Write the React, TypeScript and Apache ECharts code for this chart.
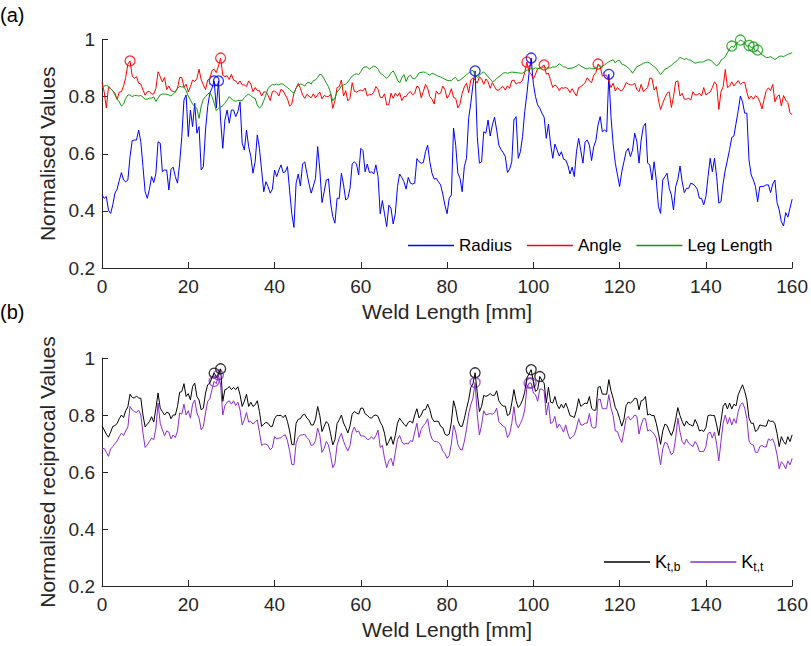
import React, { useEffect, useRef } from "react";
import * as echarts from "echarts";

const FONT = '"Liberation Sans", Arial, Helvetica, sans-serif';

// sample positions along the weld (mm), 0.5 mm step
const weldLength: number[] = Array.from({ length: 321 }, (_, i) => i * 0.5);

const radius = [
  0.456,0.444,0.45,0.403,0.391,0.421,0.462,0.476,0.506,0.534,
  0.508,0.502,0.508,0.59,0.646,0.648,0.648,0.683,0.642,0.555,
  0.467,0.444,0.476,0.52,0.499,0.532,0.642,0.637,0.537,0.543,
  0.543,0.473,0.546,0.553,0.52,0.497,0.567,0.66,0.788,0.806,
  0.66,0.753,0.695,0.777,0.672,0.695,0.543,0.555,0.683,0.765,
  0.812,0.83,0.855,0.76,0.855,0.718,0.619,0.718,0.753,0.707,
  0.753,0.753,0.730,0.747,0.782,0.637,0.613,0.683,0.625,0.590,
  0.532,0.572,0.666,0.619,0.543,0.467,0.502,0.485,0.462,0.476,
  0.543,
  0.52,0.543,0.561,0.534,0.537,0.555,0.471,0.39,0.342,0.497,
  0.529,0.487,0.564,0.572,0.532,0.494,0.462,0.487,0.514,0.625,
  0.543,0.429,0.467,0.508,0.512,0.427,0.38,0.357,0.444,0.444,
  0.532,0.491,0.438,0.444,0.479,0.564,0.572,0.564,0.526,0.619,
  0.611,0.537,0.564,0.534,0.537,0.529,0.561,0.52,0.39,0.436,
  0.39,0.345,0.42,0.409,0.354,0.39,0.485,0.529,0.517,0.502,
  0.476,0.517,0.497,0.494,0.497,0.583,0.572,0.567,0.569,0.607,
  0.63,0.572,0.532,0.511,0.514,0.502,0.491,0.459,0.42,0.39,
  0.444,0.456,0.69,0.63,0.532,0.514,0.467,0.555,0.584,0.724,
  0.777,0.841,0.89,0.66,0.567,0.572,0.677,0.672,0.718,0.662,
  0.701,0.728,0.683,0.63,0.615,0.604,0.59,0.534,0.546,0.572,
  0.718,0.730,0.584,0.607,0.66,0.747,0.809,0.882,0.935,0.846,
  0.80,0.771,0.759,0.742,0.728,0.654,0.704,0.634,0.584,0.634,
  0.613,0.592,0.607,0.581,0.578,0.56,0.529,0.553,0.52,0.607,
  0.654,0.611,0.567,0.642,0.648,0.63,0.576,0.625,0.646,0.701,
  0.730,0.677,0.683,0.677,0.878,0.730,0.634,0.567,0.526,0.485,
  0.537,0.572,0.607,0.619,0.59,0.613,0.672,0.642,0.567,0.648,
  0.695,0.707,0.567,0.561,0.508,0.572,0.508,0.415,0.391,0.508,
  0.52,0.532,0.479,0.456,0.403,0.485,0.51,0.557,0.502,0.464,
  0.479,0.479,0.497,0.494,0.487,0.476,0.444,0.444,0.421,0.45,
  0.52,0.584,0.537,0.584,0.52,0.427,0.432,0.497,0.543,0.578,
  0.615,0.657,0.662,0.707,0.751,0.802,0.782,0.742,0.742,0.578,
  0.526,0.508,0.485,0.432,0.485,0.485,0.487,0.491,0.491,0.464,
  0.494,0.508,0.429,0.403,0.362,0.347,0.394,0.378,0.409,0.441,
];

const angle = [
  0.849,0.817,0.76,0.833,0.828,0.820,0.812,0.790,0.816,0.817,
  0.838,0.867,0.914,0.925,0.872,0.864,0.870,0.847,0.844,0.823,
  0.805,0.817,0.818,0.809,0.809,0.829,0.887,0.870,0.851,0.867,
  0.825,0.837,0.821,0.818,0.816,0.830,0.867,0.867,0.833,0.844,
  0.816,0.835,0.858,0.853,0.863,0.896,0.858,0.841,0.825,0.858,
  0.864,0.891,0.896,0.884,0.907,0.935,0.875,0.870,0.873,0.860,
  0.878,0.858,0.855,0.844,0.855,0.841,0.841,0.835,0.855,0.844,
  0.817,0.832,0.821,0.821,0.802,0.816,0.817,0.805,0.786,0.818,
  0.820,
  0.814,0.802,0.826,0.820,0.806,0.792,0.767,0.774,0.812,0.830,
  0.846,0.829,0.806,0.794,0.808,0.801,0.796,0.810,0.796,0.806,
  0.816,0.792,0.804,0.80,0.80,0.809,0.759,0.786,0.832,0.835,
  0.858,0.802,0.821,0.785,0.794,0.849,0.818,0.816,0.820,0.823,
  0.820,0.830,0.802,0.808,0.806,0.816,0.835,0.825,0.798,0.796,
  0.810,0.771,0.772,0.812,0.794,0.812,0.801,0.814,0.786,0.80,
  0.80,0.812,0.818,0.806,0.812,0.837,0.832,0.796,0.818,0.843,
  0.829,0.80,0.791,0.774,0.820,0.809,0.812,0.837,0.825,0.794,
  0.806,0.828,0.797,0.794,0.761,0.774,0.812,0.834,0.847,0.814,
  0.858,0.866,0.858,0.847,0.870,0.861,0.843,0.862,0.852,0.829,
  0.849,0.835,0.823,0.823,0.832,0.835,0.823,0.838,0.829,0.856,
  0.858,0.844,0.849,0.849,0.858,0.884,0.921,0.887,0.879,0.862,
  0.879,0.898,0.899,0.905,0.911,0.879,0.882,0.856,0.832,0.841,
  0.835,0.821,0.832,0.829,0.832,0.828,0.814,0.828,0.814,0.802,
  0.832,0.835,0.841,0.849,0.866,0.855,0.849,0.875,0.884,0.914,
  0.905,0.872,0.875,0.875,0.852,0.832,0.847,0.820,0.832,0.823,
  0.82,0.831,0.849,0.844,0.841,0.841,0.847,0.825,0.817,0.843,
  0.817,0.825,0.832,0.865,0.864,0.823,0.835,0.788,0.755,0.777,
  0.796,0.812,0.817,0.762,0.80,0.852,0.855,0.802,0.812,0.791,
  0.791,0.794,0.788,0.817,0.806,0.806,0.812,0.802,0.832,0.806,
  0.812,0.816,0.832,0.852,0.841,0.755,0.817,0.835,0.895,0.832,
  0.837,0.852,0.837,0.847,0.856,0.843,0.849,0.850,0.815,0.791,
  0.802,0.791,0.803,0.798,0.782,0.757,0.791,0.821,0.831,0.821,
  0.843,0.782,0.80,0.806,0.767,0.804,0.788,0.779,0.744,0.736,
];

const legLength = [
  0.829,0.837,0.839,0.837,0.828,0.821,0.806,0.791,0.782,0.767,
  0.774,0.794,0.806,0.806,0.80,0.804,0.804,0.802,0.804,0.798,
  0.791,0.791,0.795,0.795,0.799,0.783,0.795,0.806,0.809,0.809,
  0.808,0.806,0.802,0.809,0.816,0.829,0.836,0.834,0.834,0.821,
  0.802,0.788,0.774,0.765,0.759,0.724,0.767,0.791,0.80,0.809,
  0.814,0.80,0.777,0.751,0.759,0.763,0.768,0.777,0.788,0.80,
  0.792,0.786,0.784,0.786,0.787,0.786,0.797,0.804,0.809,0.803,
  0.797,0.794,0.771,0.760,0.767,0.786,0.806,0.828,0.837,0.842,
  0.841,
  0.844,0.841,0.845,0.844,0.837,0.832,0.825,0.817,0.812,0.830,
  0.839,0.844,0.842,0.837,0.848,0.850,0.844,0.856,0.858,0.867,
  0.879,0.875,0.862,0.847,0.835,0.812,0.785,0.796,0.816,0.825,
  0.838,0.841,0.844,0.851,0.862,0.872,0.877,0.880,0.877,0.887,
  0.901,0.904,0.904,0.896,0.902,0.907,0.904,0.896,0.882,0.878,
  0.871,0.864,0.871,0.883,0.89,0.877,0.858,0.848,0.866,0.877,
  0.853,0.870,0.875,0.864,0.863,0.870,0.883,0.885,0.886,0.885,
  0.879,0.875,0.882,0.879,0.875,0.871,0.869,0.865,0.861,0.857,
  0.856,0.856,0.864,0.867,0.855,0.858,0.864,0.870,0.877,0.882,
  0.889,0.892,0.876,0.867,0.876,0.882,0.886,0.879,0.869,0.862,
  0.852,0.855,0.864,0.869,0.875,0.882,0.884,0.882,0.884,0.886,
  0.885,0.885,0.883,0.882,0.882,0.886,0.893,0.893,0.899,0.897,
  0.901,0.897,0.901,0.900,0.904,0.900,0.901,0.900,0.904,0.903,
  0.907,0.915,0.910,0.904,0.903,0.898,0.899,0.900,0.903,0.907,
  0.913,0.907,0.903,0.899,0.897,0.901,0.898,0.897,0.901,0.908,
  0.907,0.906,0.911,0.917,0.922,0.926,0.929,0.918,0.926,0.926,
  0.914,0.911,0.907,0.9,0.893,0.882,0.893,0.905,0.908,0.912,
  0.917,0.919,0.921,0.917,0.911,0.905,0.899,0.888,0.877,0.886,
  0.896,0.899,0.905,0.909,0.917,0.921,0.93,0.937,0.934,0.93,
  0.933,0.929,0.927,0.922,0.917,0.919,0.921,0.921,0.922,0.927,
  0.929,0.928,0.923,0.914,0.908,0.913,0.927,0.933,0.94,0.954,
  0.968,0.977,0.972,0.986,0.99,0.998,0.994,0.988,0.976,0.979,
  0.972,0.974,0.958,0.963,0.954,0.947,0.942,0.937,0.937,0.94,
  0.935,0.93,0.935,0.941,0.942,0.94,0.944,0.948,0.951,0.954,
];

const ktb = [
  0.762,0.748,0.733,0.722,0.74,0.76,0.763,0.77,0.787,0.80,
  0.791,0.815,0.829,0.873,0.862,0.859,0.867,0.859,0.859,0.80,
  0.758,0.768,0.777,0.794,0.775,0.824,0.877,0.824,0.812,0.80,
  0.81,0.807,0.787,0.80,0.80,0.83,0.88,0.882,0.91,0.865,
  0.875,0.853,0.90,0.912,0.865,0.853,0.818,0.824,0.877,0.906,
  0.912,0.932,0.947,0.935,0.944,0.962,0.848,0.889,0.892,0.90,
  0.889,0.897,0.889,0.899,0.871,0.83,0.848,0.873,0.83,0.845,
  0.83,0.836,0.85,0.812,0.76,0.768,0.774,0.771,0.76,0.76,
  0.787,
  0.798,0.798,0.799,0.791,0.8,0.777,0.744,0.697,0.695,0.771,
  0.785,0.787,0.80,0.803,0.789,0.782,0.765,0.765,0.785,0.83,
  0.798,0.742,0.76,0.777,0.768,0.734,0.695,0.713,0.77,0.783,
  0.80,0.772,0.756,0.737,0.762,0.803,0.812,0.807,0.803,0.824,
  0.824,0.804,0.799,0.791,0.789,0.798,0.80,0.795,0.775,0.762,
  0.736,0.693,0.707,0.724,0.697,0.728,0.771,0.789,0.778,0.768,
  0.76,0.774,0.779,0.771,0.80,0.822,0.79,0.80,0.818,0.819,
  0.838,0.819,0.789,0.777,0.778,0.778,0.76,0.756,0.733,0.728,
  0.733,0.775,0.85,0.822,0.78,0.761,0.76,0.787,0.822,0.852,
  0.897,0.909,0.948,0.877,0.812,0.83,0.869,0.865,0.869,0.875,
  0.869,0.869,0.885,0.85,0.838,0.831,0.831,0.798,0.803,0.842,
  0.889,0.85,0.826,0.836,0.853,0.88,0.93,0.944,0.959,0.918,
  0.883,0.889,0.935,0.921,0.912,0.842,0.898,0.845,0.842,0.865,
  0.836,0.822,0.838,0.824,0.842,0.822,0.798,0.795,0.791,0.818,
  0.857,0.83,0.836,0.842,0.84,0.865,0.824,0.816,0.818,0.897,
  0.9,0.873,0.873,0.873,0.924,0.885,0.859,0.826,0.812,0.787,
  0.761,0.784,0.833,0.845,0.842,0.848,0.859,0.857,0.818,0.85,
  0.853,0.865,0.80,0.803,0.798,0.798,0.771,0.736,0.697,0.744,
  0.768,0.763,0.744,0.728,0.747,0.785,0.826,0.798,0.777,0.761,
  0.779,0.768,0.765,0.761,0.784,0.768,0.744,0.747,0.742,0.756,
  0.798,0.80,0.798,0.798,0.765,0.728,0.779,0.83,0.842,0.821,
  0.842,0.821,0.838,0.832,0.871,0.889,0.906,0.883,0.853,0.789,
  0.771,0.771,0.742,0.748,0.765,0.763,0.761,0.761,0.783,0.777,
  0.779,0.769,0.736,0.689,0.724,0.707,0.697,0.724,0.707,0.73,
];

const ktt = [
  0.681,0.683,0.669,0.655,0.681,0.689,0.70,0.709,0.724,0.736,
  0.728,0.744,0.758,0.83,0.818,0.812,0.809,0.817,0.80,0.736,
  0.686,0.695,0.707,0.719,0.713,0.754,0.842,0.771,0.748,0.727,
  0.744,0.74,0.716,0.73,0.721,0.744,0.807,0.803,0.838,0.80,
  0.815,0.789,0.838,0.853,0.807,0.789,0.748,0.76,0.807,0.848,
  0.857,0.889,0.918,0.91,0.941,0.906,0.80,0.833,0.845,0.85,
  0.838,0.85,0.833,0.845,0.818,0.765,0.783,0.809,0.775,0.777,
  0.768,0.775,0.783,0.74,0.693,0.698,0.698,0.693,0.678,0.686,
  0.724,
  0.716,0.719,0.72,0.728,0.73,0.709,0.674,0.627,0.625,0.701,
  0.721,0.73,0.73,0.733,0.721,0.713,0.693,0.695,0.71,0.754,
  0.728,0.669,0.683,0.707,0.695,0.658,0.615,0.63,0.695,0.719,
  0.736,0.708,0.689,0.674,0.693,0.74,0.758,0.74,0.744,0.726,
  0.727,0.724,0.714,0.715,0.724,0.715,0.728,0.747,0.686,0.693,
  0.648,0.615,0.639,0.648,0.622,0.669,0.714,0.728,0.707,0.697,
  0.701,0.698,0.71,0.707,0.74,0.771,0.721,0.749,0.763,0.771,
  0.787,0.74,0.716,0.707,0.707,0.704,0.695,0.674,0.665,0.648,
  0.658,0.699,0.765,0.74,0.697,0.68,0.677,0.707,0.75,0.804,
  0.836,0.859,0.914,0.80,0.73,0.765,0.815,0.80,0.803,0.805,
  0.803,0.808,0.824,0.777,0.768,0.761,0.756,0.721,0.733,0.771,
  0.829,0.771,0.755,0.77,0.787,0.818,0.894,0.912,0.912,0.877,
  0.871,0.848,0.891,0.891,0.883,0.80,0.845,0.77,0.775,0.795,
  0.754,0.768,0.756,0.74,0.765,0.736,0.716,0.723,0.73,0.754,
  0.787,0.765,0.765,0.771,0.772,0.805,0.76,0.754,0.756,0.853,
  0.856,0.822,0.822,0.822,0.871,0.824,0.798,0.744,0.742,0.719,
  0.704,0.742,0.787,0.795,0.783,0.789,0.80,0.795,0.733,0.765,
  0.787,0.787,0.744,0.748,0.742,0.733,0.719,0.672,0.625,0.681,
  0.704,0.701,0.68,0.66,0.669,0.721,0.789,0.74,0.707,0.697,
  0.716,0.701,0.695,0.689,0.707,0.695,0.672,0.672,0.672,0.689,
  0.735,0.74,0.719,0.74,0.697,0.639,0.707,0.771,0.80,0.768,
  0.791,0.765,0.787,0.771,0.812,0.836,0.843,0.824,0.787,0.709,
  0.697,0.695,0.669,0.669,0.689,0.693,0.688,0.688,0.716,0.711,
  0.716,0.695,0.66,0.611,0.636,0.627,0.611,0.639,0.625,0.648,
];

// detected peaks [weld length mm, value]
const radiusPeaks = [[26, 0.855], [27, 0.855], [86.5, 0.89], [99.5, 0.935], [117.5, 0.878]];
const anglePeaks = [[6.5, 0.925], [27.5, 0.935], [98.5, 0.921], [102.5, 0.911], [115, 0.914]];
const legPeaks = [[146, 0.977], [148, 0.998], [150, 0.979], [151, 0.974], [152, 0.963]];
const ktbPeaks = [[26, 0.947], [27.5, 0.962], [86.5, 0.948], [99.5, 0.959], [101.5, 0.935]];
const kttPeaks = [[26, 0.918], [27, 0.941], [86.5, 0.914], [99, 0.912], [99.5, 0.912]];

const xTicks = { min: 0, max: 160, interval: 20 };
const yTicks = { min: 0.2, max: 1, interval: 0.2 };

const AX = "#262626";

function pairs(ys: number[]) {
  return ys.map((y, i) => [weldLength[i], y]);
}

function lineSeries(name: string, ys: number[], color: string, idx: number) {
  return {
    name,
    type: "line",
    xAxisIndex: idx,
    yAxisIndex: idx,
    data: pairs(ys),
    showSymbol: false,
    symbol: "none",
    color,
    lineStyle: { color, width: 1 },
    emphasis: { disabled: true },
  };
}

function peakSeries(name: string, pts: number[][], color: string, idx: number) {
  return {
    name,
    type: "scatter",
    xAxisIndex: idx,
    yAxisIndex: idx,
    data: pts,
    symbol: "circle",
    symbolSize: 10,
    itemStyle: { color: "transparent", borderColor: color, borderWidth: 1.3 },
    emphasis: { disabled: true },
  };
}

function xAxis(idx: number) {
  return {
    type: "value",
    gridIndex: idx,
    ...xTicks,
    name: "Weld Length [mm]",
    nameLocation: "middle",
    nameGap: 33,
    nameTextStyle: { fontSize: 21, color: AX, fontFamily: FONT },
    axisLine: { show: true, onZero: false, lineStyle: { color: AX, width: 1 } },
    axisTick: { show: true, inside: true, length: 6, lineStyle: { color: AX } },
    axisLabel: { fontSize: 19, color: AX, margin: 9, fontFamily: FONT },
    splitLine: { show: false },
  };
}

function yAxis(idx: number, name: string) {
  return {
    type: "value",
    gridIndex: idx,
    ...yTicks,
    name,
    nameLocation: "middle",
    nameGap: 42,
    nameTextStyle: { fontSize: 21, color: AX, fontFamily: FONT },
    axisLine: { show: true, onZero: false, lineStyle: { color: AX, width: 1 } },
    axisTick: { show: true, inside: true, length: 6, lineStyle: { color: AX } },
    axisLabel: {
      fontSize: 19,
      color: AX,
      margin: 7,
      fontFamily: FONT,
      formatter: (v: number) => String(Math.round(v * 10) / 10),
    },
    splitLine: { show: false },
  };
}

export default function App() {
  const ref = useRef<HTMLDivElement>(null);
  useEffect(() => {
    if (!ref.current) return;
    const chart = echarts.init(ref.current, undefined, { renderer: "svg" });
    const option: any = {
      animation: false,
      backgroundColor: "#ffffff",
      textStyle: { fontFamily: FONT },
      grid: [
        { left: 102, width: 693, top: 39.5, height: 228.5 },
        { left: 102, width: 693, top: 358, height: 228 },
      ],
      xAxis: [xAxis(0), xAxis(1)],
      yAxis: [yAxis(0, "Normalised Values"), yAxis(1, "Normalised reciprocal Values")],
      legend: [
        {
          left: 403,
          top: 232,
          padding: 5,
          icon: "rect",
          itemWidth: 46,
          itemHeight: 1.5,
          itemGap: 15,
          textStyle: { fontSize: 17, color: "#000", fontFamily: FONT },
          data: ["Radius", "Angle", "Leg Length"],
          selectedMode: false,
        },
        {
          left: 599,
          top: 548,
          padding: 5,
          icon: "rect",
          itemWidth: 46,
          itemHeight: 1.5,
          itemGap: 10,
          textStyle: {
            fontSize: 17,
            color: "#000",
            fontFamily: FONT,
            rich: {
              k: { fontSize: 18, fontFamily: FONT, color: "#000" },
              s: { fontSize: 12, fontFamily: FONT, color: "#000", padding: [10, 0, 0, 0] },
            },
          },
          formatter: (n: string) => (n === "Kt,b" ? "{k|K}{s|t,b}" : "{k|K}{s|t,t}"),
          data: ["Kt,b", "Kt,t"],
          selectedMode: false,
        },
      ],
      graphic: [
        { type: "text", left: 0, top: 5, style: { text: "(a)", font: `20px ${FONT}`, fill: "#000" } },
        { type: "text", left: 0, top: 302, style: { text: "(b)", font: `20px ${FONT}`, fill: "#000" } },
      ],
      series: [
        lineSeries("Radius", radius, "#0000ff", 0),
        lineSeries("Angle", angle, "#ff0000", 0),
        lineSeries("Leg Length", legLength, "#109910", 0),
        peakSeries("Radius peaks", radiusPeaks, "#0000ff", 0),
        peakSeries("Angle peaks", anglePeaks, "#ff0000", 0),
        peakSeries("Leg Length peaks", legPeaks, "#109910", 0),
        lineSeries("Kt,b", ktb, "#000000", 1),
        lineSeries("Kt,t", ktt, "#8a2bd0", 1),
        peakSeries("Kt,b peaks", ktbPeaks, "#000000", 1),
        peakSeries("Kt,t peaks", kttPeaks, "#8a2bd0", 1),
      ],
    };
    chart.setOption(option);
    return () => chart.dispose();
  }, []);
  return (
    <div
      ref={ref}
      style={{ position: "fixed", left: 0, top: 0, width: 811, height: 646, background: "#fff" }}
    />
  );
}
